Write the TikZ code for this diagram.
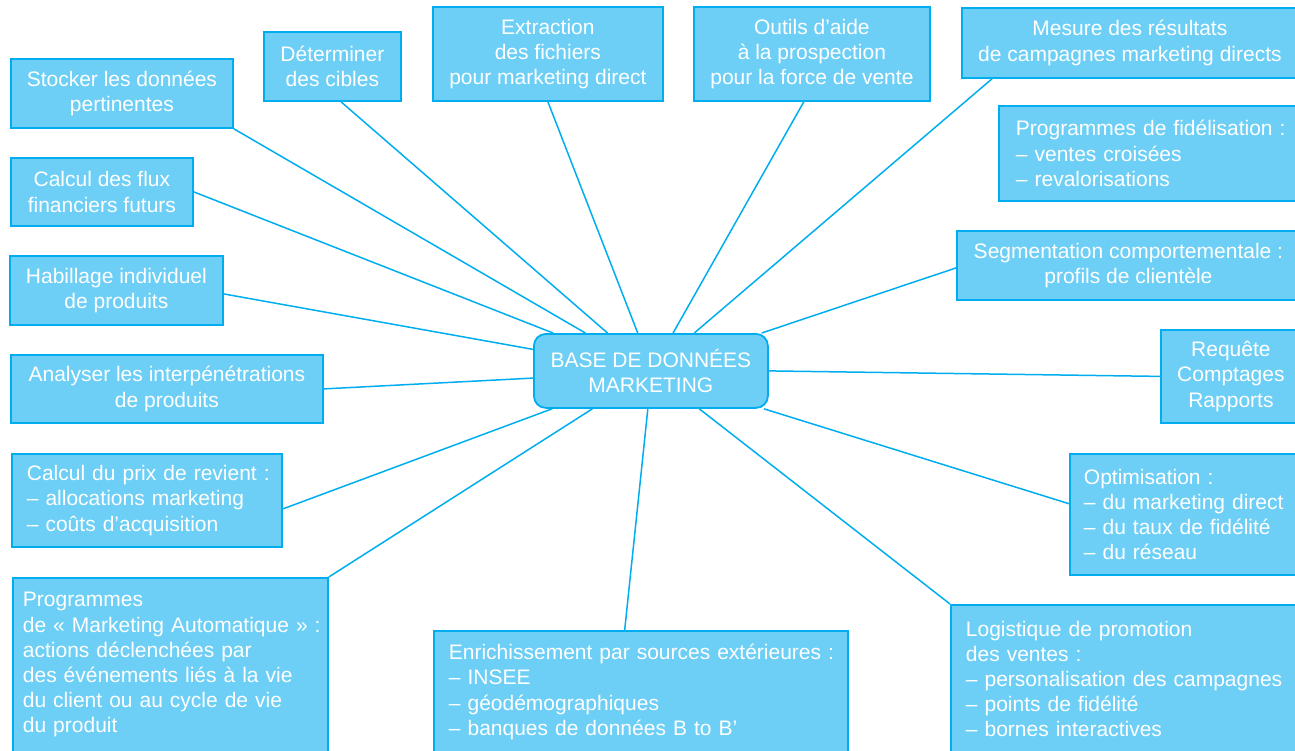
\documentclass[tikz,border=0pt]{standalone}
\usepackage{fontspec}
\setmainfont{Liberation Sans}
\usetikzlibrary{calc,backgrounds}
\definecolor{boxfill}{HTML}{6DCFF6}
\definecolor{boxline}{HTML}{00AEEF}
\begin{document}
\begin{tikzpicture}[x=1pt,y=-1pt,
  box/.style={draw=boxline, line width=1.8pt, fill=boxfill, text=white, inner sep=0pt,
    font=\fontsize{21}{25.2}\selectfont, anchor=north west, align=center},
  lbox/.style={box, align=left},
  link/.style={draw=boxline, line width=1.5pt}]
\useasboundingbox (0,0) rectangle (1295,751);

% left column
\node[box, minimum width=222pt, minimum height=69pt] (stocker) at (10,58) {Stocker les données\\pertinentes};
\node[box, minimum width=182pt, minimum height=68pt] (flux) at (10,157) {Calcul des flux\\financiers futurs};
\node[box, minimum width=213pt, minimum height=69pt] (hab) at (9,255) {Habillage individuel\\de produits};
\node[box, minimum width=312pt, minimum height=68pt] (ana) at (10,354) {Analyser les interpénétrations\\de produits};
\node[lbox, text width=240pt, inner xsep=15pt, minimum height=93pt] (prix) at (11,453)
  {\mbox{Calcul du prix de revient :}\\\mbox{– allocations marketing}\\\mbox{– coûts d’acquisition}};
\node[lbox, text width=295pt, inner xsep=10pt, minimum height=174pt] (auto) at (12,577)
  {\mbox{Programmes}\\\mbox{de « Marketing Automatique » :}\\\mbox{actions déclenchées par}\\\mbox{des événements liés à la vie}\\\mbox{du client ou au cycle de vie}\\\mbox{du produit}};

% top row
\node[box, minimum width=137pt, minimum height=69pt] (det) at (263,31) {Déterminer\\des cibles};
\node[box, minimum width=230pt, minimum height=94pt] (ext) at (432,6) {Extraction\\des fichiers\\pour marketing direct};
\node[box, minimum width=236pt, minimum height=94pt] (out) at (693,6) {Outils d’aide\\à la prospection\\pour la force de vente};
\node[box, minimum width=336pt, minimum height=70pt] (mes) at (961,7) {Mesure des résultats\\de campagnes marketing directs};

% right column
\node[lbox, text width=266pt, inner xsep=17pt, minimum height=95pt] (fid) at (998,105)
  {\mbox{Programmes de fidélisation :}\\\mbox{– ventes croisées}\\\mbox{– revalorisations}};
\node[box, minimum width=343pt, minimum height=69pt] (seg) at (956,230) {Segmentation comportementale :\\profils de clientèle};
\node[box, minimum width=140pt, minimum height=93pt] (req) at (1160,329) {Requête\\Comptages\\Rapports};
\node[lbox, text width=203pt, inner xsep=14pt, minimum height=121pt] (opt) at (1069,453)
  {\mbox{Optimisation :}\\\mbox{– du marketing direct}\\\mbox{– du taux de fidélité}\\\mbox{– du réseau}};
\node[lbox, text width=320pt, inner xsep=15pt, minimum height=148pt] (log) at (950,604)
  {\mbox{Logistique de promotion}\\\mbox{des ventes :}\\\mbox{– personalisation des campagnes}\\\mbox{– points de fidélité}\\\mbox{– bornes interactives}};

% bottom
\node[lbox, text width=384pt, inner xsep=15pt, minimum height=122pt] (enr) at (433,630)
  {\mbox{Enrichissement par sources extérieures :}\\\mbox{– INSEE}\\\mbox{– géodémographiques}\\\mbox{– banques de données B to B’}};

% centre
\node[box, rounded corners=12pt, minimum width=234pt, minimum height=74pt] (base) at (533,333) {BASE DE DONNÉES\\MARKETING};

\begin{scope}[on background layer]
\draw[link] (stocker.south east) -- ($(base.north west)!0.222!(base.north east)$);
\draw[link] (flux.east) -- ($(base.north west)!0.085!(base.north east)$);
\draw[link] ($(hab.north east)!0.55!(hab.south east)$) -- ($(base.north west)!0.216!(base.south west)$);
\draw[link] (ana.east) -- ($(base.north west)!0.595!(base.south west)$);
\draw[link] ($(prix.north east)!0.59!(prix.south east)$) -- ($(base.south west)!0.081!(base.south east)$);
\draw[link] (auto.north east) -- ($(base.south west)!0.252!(base.south east)$);
\draw[link] ($(enr.north west)!0.461!(enr.north east)$) -- ($(base.south west)!0.487!(base.south east)$);
\draw[link] (log.north west) -- ($(base.south west)!0.705!(base.south east)$);
\draw[link] ($(opt.north west)!0.413!(opt.south west)$) -- ($(base.south west)!0.979!(base.south east)$);
\draw[link] (req.west) -- (base.east);
\draw[link] ($(seg.north west)!0.536!(seg.south west)$) -- ($(base.north west)!0.97!(base.north east)$);
\draw[link] ($(mes.south west)+(31,0)$) -- ($(base.north west)!0.684!(base.north east)$);
\draw[link] ($(out.south west)!0.466!(out.south east)$) -- ($(base.north west)!0.594!(base.north east)$);
\draw[link] (ext.south) -- ($(base.north west)!0.444!(base.north east)$);
\draw[link] ($(det.south west)!0.562!(det.south east)$) -- ($(base.north west)!0.316!(base.north east)$);
\end{scope}
\end{tikzpicture}
\end{document}
